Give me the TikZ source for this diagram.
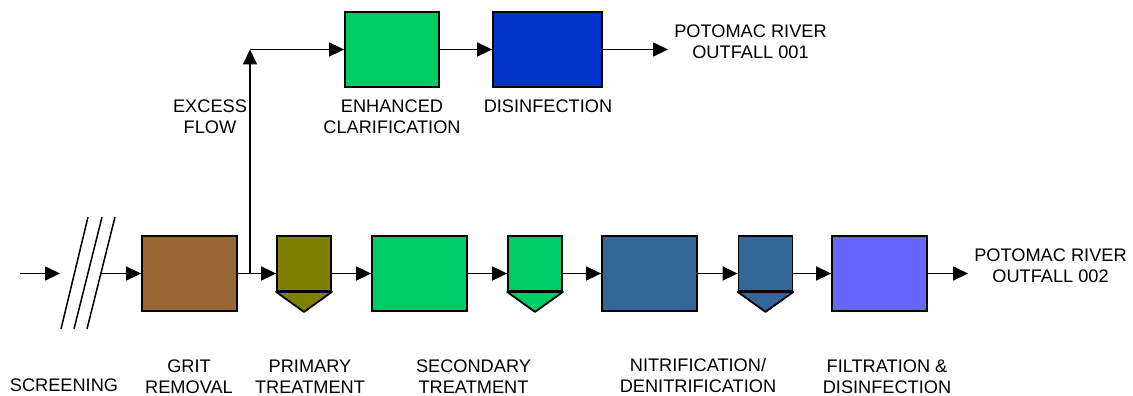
\documentclass[tikz,border=0pt]{standalone}
\usepackage{fontspec}
\setmainfont{Liberation Sans}
\usetikzlibrary{arrows.meta,calc}
\definecolor{cgrit}{HTML}{996633}
\definecolor{cprim}{HTML}{808000}
\definecolor{cgreen}{HTML}{00CC66}
\definecolor{cdis}{HTML}{0033CC}
\definecolor{cnit}{HTML}{336699}
\definecolor{cfilt}{HTML}{6666FF}
\tikzset{
  tank/.style={draw=black, line width=1.8pt, inner sep=0pt, minimum width=95pt, minimum height=75pt},
  clar/.style={draw=black, line width=1.8pt, inner sep=0pt, minimum width=54pt, minimum height=55pt},
  flow/.style={line width=1.7pt, -{Triangle[length=15pt,width=14pt]}},
  lbl/.style={font=\fontsize{18.2}{21}\selectfont, align=center, inner sep=0pt},
}
\begin{document}
\begin{tikzpicture}[x=1pt,y=-1pt]
\useasboundingbox (0,0) rectangle (1133,396);
% main line units
\node[tank, fill=cgrit] (grit) at (189.5,273.5) {};
\node[clar, fill=cprim] (prim) at (304,263.5) {};
\node[tank, fill=cgreen] (sec) at (419.5,273.5) {};
\node[clar, fill=cgreen] (secc) at (535,263.5) {};
\node[tank, fill=cnit] (nit) at (649.5,273.5) {};
\node[clar, fill=cnit] (nitc) at (765.5,263.5) {};
\node[tank, fill=cfilt] (filt) at (879.5,273.5) {};
% hoppers
\foreach \n/\c in {prim/cprim, secc/cgreen, nitc/cnit}{
  \draw[line width=1.8pt, fill=\c, line join=round] (\n.south west) -- ($(\n.south)+(0,20)$) -- (\n.south east) -- cycle;
}
% top units
\node[tank, fill=cgreen, minimum width=94pt] (enh) at (392,49.5) {};
\node[tank, fill=cdis, minimum width=109pt] (dis) at (547.5,49.5) {};
% outfall labels
\node[lbl] (out1) at (750.5,42) {POTOMAC RIVER\\OUTFALL 001};
\node[lbl] (out2) at (1050.5,266) {POTOMAC RIVER\\OUTFALL 002};
% coordinates
\coordinate (in0) at (20,273.5);
\coordinate (in1) at (60,273.5);
\coordinate (scr) at (100,273.5);
\coordinate (br) at (250,273.5);
\coordinate (corner) at (250,49.5);
\coordinate (o1) at (668,49.5);
\coordinate (o2) at (968,273.5);
% screening slashes
\draw[line width=1.5pt] (61,329) -- (88,217);
\draw[line width=1.5pt] (74,329) -- (102,217);
\draw[line width=1.5pt] (87,329) -- (115,217);
% flows
\draw[flow] (in0) -- (in1);
\draw[flow] (scr) -- (grit.west);
\draw[flow] (grit.east) -- (prim.west |- grit.east);
\draw[flow] (prim.east |- grit.east) -- (sec.west);
\draw[flow] (sec.east) -- (secc.west |- sec.east);
\draw[flow] (secc.east |- sec.east) -- (nit.west);
\draw[flow] (nit.east) -- (nitc.west |- nit.east);
\draw[flow] (nitc.east |- nit.east) -- (filt.west);
\draw[flow] (filt.east) -- (o2);
\draw[flow] (br) -- (corner);
\draw[flow] (corner) -- (enh.west);
\draw[flow] (enh.east) -- (dis.west);
\draw[flow] (dis.east) -- (o1);
% labels
\node[lbl] (lex) at (210,116.5) {EXCESS\\FLOW};
\node[lbl] (lenh) at (392,116.5) {ENHANCED\\CLARIFICATION};
\node[lbl] (ldis) at (548,106.3) {DISINFECTION};
\node[lbl] (lscr) at (64,385.5) {SCREENING};
\node[lbl] (lgrit) at (189,376.5) {GRIT\\REMOVAL};
\node[lbl] (lprim) at (310,376.5) {PRIMARY\\TREATMENT};
\node[lbl] (lsec) at (473.5,376.5) {SECONDARY\\TREATMENT};
\node[lbl] (lnit) at (698,375.5) {NITRIFICATION/\\DENITRIFICATION};
\node[lbl] (lfilt) at (887,376.5) {FILTRATION \&\\DISINFECTION};
\end{tikzpicture}
\end{document}
